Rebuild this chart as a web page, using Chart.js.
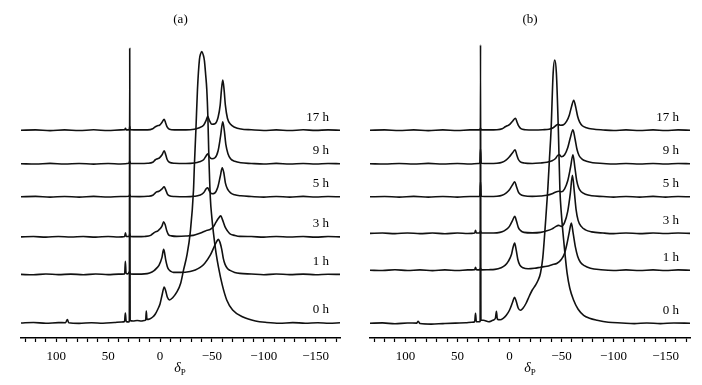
<!DOCTYPE html>
<html>
<head>
<meta charset="utf-8">
<script src="https://cdn.jsdelivr.net/npm/chart.js@4/dist/chart.umd.min.js"></script>
<style>
  body { margin: 0; background: #fff; }
  #wrap { position: relative; width: 702px; height: 385px; background: #fff; }
  canvas { position: absolute; top: 0; }
  .xlab { position: absolute; top: 361px; width: 40px; text-align: center;
          font-family: "Liberation Serif", serif; font-size: 14px; line-height: 14px; color: #000; }
  .xlab sub { font-size: 9px; font-style: normal; vertical-align: baseline; position: relative; top: 3px; }
</style>
</head>
<body>
<div id="wrap">
  <canvas id="chartA" width="351" height="385" style="left:0"></canvas>
  <canvas id="chartB" width="351" height="385" style="left:351px"></canvas>
  <div class="xlab" style="left:160px"><i>δ</i><sub>P</sub></div>
  <div class="xlab" style="left:510px"><i>δ</i><sub>P</sub></div>
</div>
<script>
// 31P NMR spectra, stacked by reaction time
// each spectrum: [chemical shift (ppm), intensity above its own baseline]

const hours = ['0 h', '1 h', '3 h', '5 h', '9 h', '17 h'];
const offsetsA = [15, 63.5, 101, 141, 174, 207.5];
const offsetsB = [14.7, 67.7, 104.5, 141, 174, 207.5];
const majorTicks = [100, 50, 0, -50, -100, -150];

// ---- panel (a) ----
const a0h = [[134,0],[122,0.5],[110,-0.3],[98,0.4],[91,0.3],[89.3,3.5],[88,0.2],[78,-0.4],[66,0.3],[55,-0.2],[44,0.5],
  [37,1],[34.2,1.5],[33.4,10],[32.6,1.5],[30.2,1],[29.6,2],[29.2,274],[28.8,2.5],[26,2],[22,2.5],[18,2],[15,2.5],
  [13.8,3],[13.2,12],[12.6,3.5],[10,4],[7,6],[4.5,9],[2,14],[0,19],[-2,28],[-4,36],[-5.5,32],[-7,26],[-9.2,23],
  [-12,25],[-16.3,31],[-20,40],[-22.7,53],[-26,68],[-29.1,90],[-32.3,133],[-33.2,159],[-34.6,193],[-36.1,233],
  [-38,263],[-39.2,269],[-40.3,271],[-41.6,268],[-42.8,262],[-44,248],[-45.1,233],[-46.1,207],[-47,170],[-48.5,125],
  [-50,105],[-51.5,90],[-54,70],[-56.3,56],[-60,38],[-64.3,23],[-70,13],[-80,6],[-92,2],[-103,0.5],[-115,-0.3],
  [-128,0.4],[-140,-0.2],[-152,0.3],[-163,-0.3],[-173.5,0.2]];

const a1h = [[134,0],[122,-0.4],[110,0.4],[98,-0.2],[86,0.3],[74,-0.3],[62,0.4],[50,-0.2],[40,0.3],[34.1,0.5],[33.4,13],
  [32.7,1],[31,0.5],[29.3,2.5],[28.6,0.5],[22,0.3],[15,0.5],[10,1.5],[6,3.5],[3,6.5],[1,9],[-1.9,17],[-3.5,25],[-4.5,21],
  [-5.4,15],[-7,8],[-8.3,5],[-10.5,3],[-13,2],[-20,2],[-29,3],[-34,4.5],[-38.7,7],[-43,11],[-48.3,19],[-51.5,26],
  [-54.7,33],[-56.3,35],[-57.8,32],[-59.5,25],[-61,16],[-62.7,10],[-65,6],[-67.5,4],[-72,2],[-77,1],[-88,0.4],
  [-100,-0.3],[-112,0.4],[-125,-0.2],[-138,0.3],[-150,-0.3],[-162,0.2],[-173.5,0]];

const a3h = [[134,0],[122,0.3],[110,-0.3],[98,0.4],[86,-0.2],[74,0.3],[62,-0.3],[50,0.4],[40,-0.2],[34.1,0.3],[33.3,4],
  [32.5,0.3],[29.6,0.5],[29.2,3],[28.8,0.5],[22,0.2],[15,0.4],[9,1.5],[6,4],[4.5,5],[2,6],[0,8],[-2,11],[-3.5,15],
  [-5,12],[-6.5,6],[-8.3,2],[-11,1],[-16,0.5],[-25,0.8],[-32,1.5],[-37,3],[-41.9,5],[-45.5,6.5],[-48.3,7.3],[-51,9.5],
  [-53.1,13],[-56,18],[-58.6,21],[-60.3,17],[-62.7,10],[-65,6],[-67.5,3],[-72,1.5],[-77,0.5],[-88,0.3],[-100,-0.3],
  [-112,0.4],[-125,-0.2],[-138,0.3],[-150,-0.3],[-162,0.3],[-173.5,0]];

const a5h = [[134,0],[120,0.4],[106,-0.3],[92,0.3],[78,-0.3],[64,0.4],[50,-0.2],[38,0.3],[30,0.5],[29.2,2],[28.4,0.3],
  [20,0.2],[12,0.5],[7,1.5],[4.5,4],[3,5],[1,5.5],[-2,8],[-4,10],[-5.5,7],[-7,3],[-9,1],[-14,0.3],[-25,0],[-33,0.5],
  [-38,1.5],[-42,4],[-44.5,8],[-46,9],[-47.5,6],[-50,3],[-52.5,3.5],[-55.5,9],[-58,20],[-60,29],[-61.5,24],[-63,14],
  [-65,8],[-68,4],[-72,2],[-78,1],[-88,0.3],[-100,-0.3],[-112,0.3],[-125,-0.3],[-138,0.4],[-150,-0.2],[-162,0.3],
  [-173.5,0]];

const a9h = [[134,0],[120,-0.3],[106,0.4],[92,-0.3],[78,0.3],[64,-0.4],[50,0.3],[38,-0.2],[30,0.5],[29.2,2.5],[28.4,0.3],
  [20,0.3],[12,0.5],[7,1.5],[4.5,4],[2.5,5],[0.5,6],[-2,9],[-4,13],[-5.5,9],[-7,4],[-9,1.5],[-14,0.5],[-25,0.3],
  [-33,0.8],[-38,2],[-42,4],[-44.5,8],[-46,10],[-47.5,7],[-50,5],[-53,6],[-56,13],[-58.3,27],[-60.5,42],[-62,33],
  [-63.5,19],[-65.5,10],[-68,5],[-72,2.5],[-78,1],[-88,0.3],[-100,-0.3],[-112,0.4],[-125,-0.3],[-138,0.3],[-150,-0.3],
  [-162,0.3],[-173.5,0]];

const a17h = [[134,0],[120,0.3],[106,-0.4],[92,0.3],[78,-0.3],[64,0.4],[50,-0.3],[38,0.3],[34,0.4],[33.3,2],[32.6,0.3],
  [29.6,0.5],[29.2,4],[28.8,0.5],[20,0.3],[12,0.3],[7,1.5],[4.5,3.5],[2.5,4.5],[0.5,5],[-2,8],[-4,11],[-5.5,7],[-7,3],
  [-9,1],[-14,0.3],[-25,0.3],[-33,1],[-38,2.5],[-42,5],[-44.5,10],[-46,14],[-47.5,10],[-50,6],[-53,6.5],[-56,13],
  [-58,25],[-59.2,40],[-60.5,50],[-61.8,40],[-63,25],[-65,12],[-68,6],[-72,3],[-78,1.2],[-88,0.4],[-100,-0.3],
  [-112,0.3],[-125,-0.3],[-138,0.4],[-150,-0.2],[-162,0.3],[-173.5,0]];

// ---- panel (b) ----
const b0h = [[134,0],[122,0.4],[110,-0.5],[98,0.3],[89,0.2],[87.7,2],[86,-0.3],[75,-0.8],[64,-0.3],[52,0.2],[42,0.5],
  [36,1],[33.4,1.5],[32.6,10],[31.8,1.5],[28.6,1.5],[28.2,2],[27.8,278],[27.4,3],[25,3],[20,1.5],[16,3],[13.5,5],
  [12.5,12],[11.6,4],[9,3.5],[6,5],[3,8],[0,13],[-3,21],[-4.8,26],[-6.5,22],[-8.5,15],[-10.6,13],[-13,15],[-16,20],
  [-19,27],[-21.8,33],[-25,38],[-27.5,43],[-29.8,50],[-32,65],[-34.6,100],[-36.8,133],[-38.5,165],[-40,193],[-42,250],
  [-43.5,263],[-45.1,250],[-47,193],[-48.5,133],[-50,108],[-52.1,83],[-55.4,50],[-58,35],[-61.7,23],[-66,14],
  [-71.3,8],[-77,5],[-84.2,3],[-95,1],[-108,0.3],[-120,-0.3],[-132,0.3],[-145,-0.3],[-158,0.3],[-173.5,0]];

const b1h = [[134,0],[122,-0.3],[110,0.4],[98,-0.3],[86,0.3],[74,-0.4],[62,0.3],[50,-0.3],[40,0.3],[33.4,0.5],[32.6,3],
  [31.8,0.5],[28.5,0.3],[27.8,2],[27.1,0.3],[20,0.5],[14,0.8],[8,2.5],[4,5],[1,9],[-2,16],[-3.5,23],[-5,27],[-6.5,20],
  [-8,11],[-10,5],[-13,2.5],[-18,1.5],[-24,2],[-29.8,3],[-36,4],[-41,5.5],[-45.8,7],[-50,11],[-53,17],[-55.4,27],
  [-57.5,38],[-59.5,47],[-61.2,37],[-63.4,23],[-65.5,14],[-68.2,8],[-72,4.5],[-77.8,2],[-88,0.5],[-100,-0.3],
  [-112,0.3],[-125,-0.3],[-138,0.3],[-150,-0.3],[-162,0.3],[-173.5,0]];

const b3h = [[134,0],[122,0.3],[110,-0.3],[98,0.4],[86,-0.3],[74,0.3],[62,-0.4],[50,0.3],[40,-0.2],[33.4,0.3],[32.6,3],
  [31.8,0.3],[28.5,0.3],[27.8,2.5],[27.1,0.3],[20,0.3],[12,0.5],[7,1.5],[3,4],[0,7],[-3,13],[-5.1,17],[-6.8,12],
  [-8.5,6],[-10.5,3],[-14,1],[-22,0.5],[-30,1],[-36,2.5],[-41,4.5],[-44,6.5],[-47.3,8],[-50,7],[-53,11],[-56,22],
  [-58.5,40],[-60.5,58],[-62.3,42],[-64,24],[-66,13],[-69,7],[-73,3.5],[-79,1.5],[-90,0.3],[-100,-0.3],[-112,0.4],
  [-125,-0.3],[-138,0.3],[-150,-0.2],[-162,0.3],[-173.5,0]];

const b5h = [[134,0],[120,0.3],[106,-0.3],[92,0.4],[78,-0.3],[64,0.3],[50,-0.3],[38,0.3],[30,0.3],[28.5,0.5],[27.8,15],
  [27.1,0.5],[20,0.3],[12,0.5],[7,1.5],[3,4],[0,7],[-3,12],[-5.1,15],[-6.8,10],[-8.5,5],[-10.5,2.5],[-14,1],[-22,0.4],
  [-30,0.8],[-36,1.5],[-41,3],[-44,4.5],[-47.3,5.5],[-50,5],[-53,8],[-56,16],[-58.8,30],[-61,42],[-62.8,30],[-64.5,17],
  [-66.5,9],[-69,5],[-73,2.5],[-79,1],[-90,0.3],[-100,-0.3],[-112,0.3],[-125,-0.3],[-138,0.4],[-150,-0.3],[-162,0.3],
  [-173.5,0]];

const b9h = [[134,0],[120,-0.3],[106,0.3],[92,-0.3],[78,0.4],[64,-0.3],[50,0.3],[38,-0.3],[30,0.3],[28.5,0.5],[27.8,15],
  [27.1,0.5],[20,0.3],[12,0.5],[7,1.5],[3,4],[0,7],[-3,11],[-5.5,14],[-7,9],[-8.5,4.5],[-10.5,2],[-14,0.8],[-22,0.3],
  [-30,0.8],[-36,1.5],[-41,3],[-44,5],[-46.5,8.5],[-48,9],[-50,7],[-53,9],[-56,16],[-58.5,26],[-61,34],[-63,25],
  [-65,14],[-67,8],[-70,4.5],[-74,2.5],[-80,1],[-90,0.3],[-100,-0.3],[-112,0.3],[-125,-0.3],[-138,0.3],[-150,-0.3],
  [-162,0.3],[-173.5,0]];

const b17h = [[134,0],[120,0.3],[106,-0.3],[92,0.3],[78,-0.4],[64,0.3],[50,-0.3],[38,0.3],[30,0.3],[28.5,0.3],[27.8,2],
  [27.1,0.3],[20,0.3],[12,0.5],[7,1.5],[4,3.5],[2.2,4.5],[0,5.5],[-3,9],[-5.8,12],[-7.3,8],[-9,4],[-11,1.5],[-15,0.5],
  [-24,0.2],[-32,0.5],[-38,1],[-42,2.5],[-45,5],[-46.7,6],[-49,5],[-52,5.5],[-55,9],[-57.5,15],[-59.5,23],[-61.8,30],
  [-63.5,24],[-65.5,14],[-67.5,8],[-70,4.5],[-74,2.5],[-80,1.2],[-90,0.3],[-100,-0.3],[-112,0.3],[-125,-0.3],
  [-138,0.3],[-150,-0.3],[-162,0.3],[-173.5,0]];

const serif = '"Liberation Serif", "DejaVu Serif", serif';

// draw the "17 h" style labels at the right end of each trace
const hourLabels = {
    id: 'hourLabels',
    afterDatasetsDraw(chart) {
        const ctx = chart.ctx;
        const xs = chart.scales.x;
        const ys = chart.scales.y;
        ctx.save();
        ctx.font = '13px ' + serif;
        ctx.fillStyle = '#000';
        ctx.textAlign = 'right';
        ctx.textBaseline = 'middle';
        chart.data.datasets.forEach(ds => {
            ctx.fillText(ds.label, xs.getPixelForValue(-163), ys.getPixelForValue(ds.baseline + 13));
        });
        ctx.restore();
    }
};

function makePanel(id, title, specs, offsets, padLeft, padRight) {
    const datasets = specs.map((spec, i) => ({
        label: hours[i],
        baseline: offsets[i],
        data: spec.map(p => ({ x: p[0], y: offsets[i] + p[1] })),
        borderColor: '#111',
        borderWidth: 1.6,
        pointRadius: 0,
        cubicInterpolationMode: 'monotone',
        fill: false,
        clip: false
    }));

    new Chart(document.getElementById(id), {
        type: 'line',
        data: { datasets },
        options: {
            responsive: false,
            animation: false,
            devicePixelRatio: 1,
            layout: { padding: { left: padLeft, right: padRight, top: 0, bottom: 13.4 } },
            plugins: {
                legend: { display: false },
                tooltip: { enabled: false },
                title: {
                    display: true,
                    text: title,
                    color: '#000',
                    font: { family: serif, size: 13, weight: 'normal' },
                    padding: { top: 12, bottom: 10 }
                }
            },
            scales: {
                x: {
                    type: 'linear',
                    reverse: true,
                    min: -173.5,
                    max: 134,
                    border: { display: true, color: '#000', width: 1.5 },
                    grid: { display: true, drawOnChartArea: false, drawTicks: true, tickLength: 4, tickColor: '#000', tickWidth: 1.2 },
                    ticks: {
                        stepSize: 10,
                        includeBounds: false,
                        autoSkip: false,
                        maxRotation: 0,
                        padding: 7,
                        color: '#000',
                        font: { family: serif, size: 13 },
                        callback: v => majorTicks.includes(v) ? (v < 0 ? '\u2212' + Math.abs(v) : String(v)) : ''
                    }
                },
                y: { display: false, min: 0, max: 300 }
            }
        },
        plugins: [hourLabels]
    });
}

makePanel('chartA', '(a)', [a0h, a1h, a3h, a5h, a9h, a17h], offsetsA, 21, 11);
makePanel('chartB', '(b)', [b0h, b1h, b3h, b5h, b9h, b17h], offsetsB, 19, 12);
</script>
</body>
</html>
